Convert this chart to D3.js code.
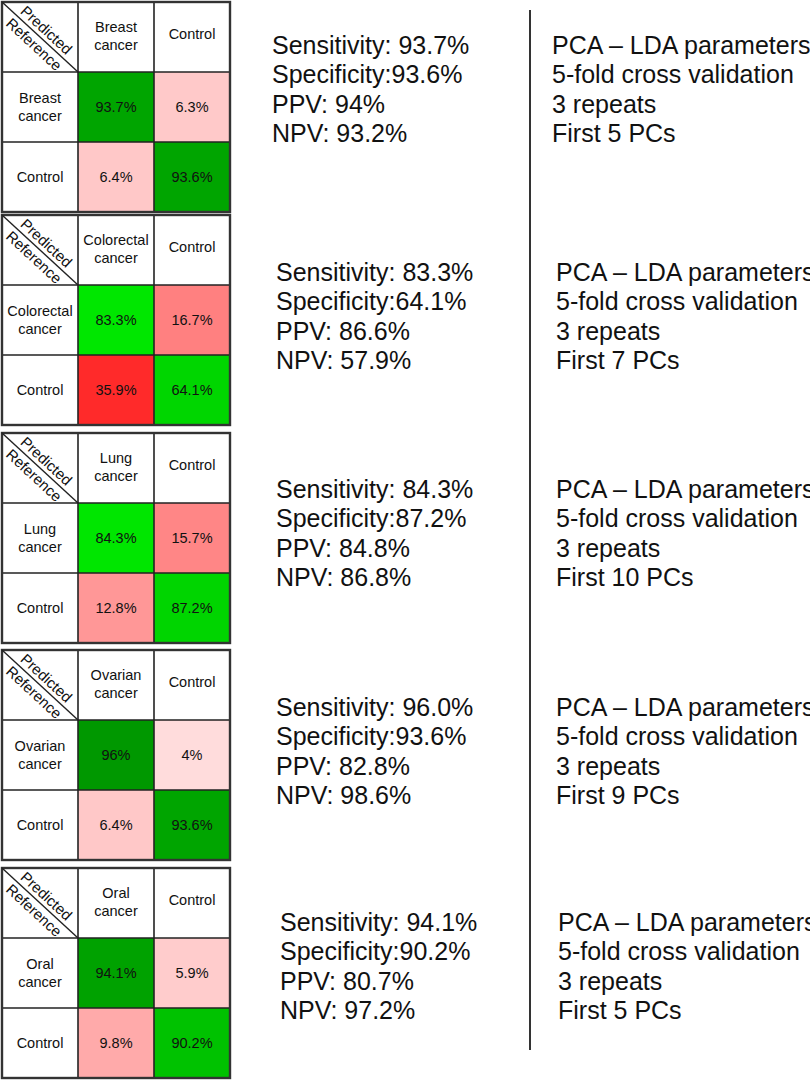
<!DOCTYPE html>
<html>
<head>
<meta charset="utf-8">
<script src="https://cdn.jsdelivr.net/npm/d3@7"></script>
<style>
  html, body { margin: 0; padding: 0; background: #fff; }
  svg { display: block; font-family: "Liberation Sans", Arial, Helvetica, sans-serif; }
</style>
</head>
<body>
<svg id="chart" width="810" height="1080"></svg>
<script>
// ---------------- data ----------------
const cancers = ["Breast", "Colorectal", "Lung", "Ovarian", "Oral"];
const truePositive = [93.7, 83.3, 84.3, 96, 94.1];   // cancer -> cancer
const falseNegative = [6.3, 16.7, 15.7, 4, 5.9];     // cancer -> control
const falsePositive = [6.4, 35.9, 12.8, 6.4, 9.8];   // control -> cancer
const trueNegative = [93.6, 64.1, 87.2, 93.6, 90.2]; // control -> control
const sensitivityLabels = ["93.7%", "83.3%", "84.3%", "96.0%", "94.1%"];
const specificityLabels = ["93.6%", "64.1%", "87.2%", "93.6%", "90.2%"];
const ppvLabels = ["94%", "86.6%", "84.8%", "82.8%", "80.7%"];
const npvLabels = ["93.2%", "57.9%", "86.8%", "98.6%", "97.2%"];
const firstPCs = [5, 7, 10, 9, 5];

// ---------------- layout ----------------
const panelTop = [2, 215, 433, 650, 868];
const panelH = 210;
const statsX = [272, 276, 276, 276, 280];
const paramsX = [552, 556, 556, 556, 558];
const textFirstY = [45, 272, 489, 707, 922];
const lineGap = 29.4;

const svg = d3.select("#chart");

const x = d3.scaleBand().domain(["hdr", "pos", "neg"]).range([2, 230]);

const green = d3.scaleLinear().domain([64, 84, 90, 94, 96])
  .range(["#00d600", "#00e800", "#00c400", "#00a200", "#009800"]).clamp(true);
const red = d3.scaleLinear().domain([4, 6.4, 10, 16.7, 36])
  .range(["#ffdcdc", "#ffc8c8", "#ffa8a8", "#ff8080", "#ff2a2a"]).clamp(true);

const fmt = v => (Number.isInteger(v) ? v : v.toFixed(1)) + "%";

function twoLine(g, cx, cy, lines, size) {
  const t = g.append("text").attr("text-anchor", "middle")
    .attr("font-size", size).attr("fill", "#111");
  const gap = 17.5;
  lines.forEach((l, i) => {
    t.append("tspan").attr("x", cx)
      .attr("y", cy + (i - (lines.length - 1) / 2) * gap)
      .attr("dy", "0.35em").text(l);
  });
}

cancers.forEach((name, i) => {
  const top = panelTop[i];
  const y = d3.scaleBand().domain(["hdr", "pos", "neg"]).range([top, top + panelH]);
  const g = svg.append("g");

  const cells = [
    { r: "pos", c: "pos", v: truePositive[i], good: true },
    { r: "pos", c: "neg", v: falseNegative[i], good: false },
    { r: "neg", c: "pos", v: falsePositive[i], good: false },
    { r: "neg", c: "neg", v: trueNegative[i], good: true }
  ];

  g.selectAll("rect.cell").data(cells).join("rect")
    .attr("class", "cell")
    .attr("x", d => x(d.c)).attr("y", d => y(d.r))
    .attr("width", x.bandwidth()).attr("height", y.bandwidth())
    .attr("fill", d => d.good ? green(d.v) : red(d.v));

  g.selectAll("text.val").data(cells).join("text")
    .attr("class", "val")
    .attr("x", d => x(d.c) + x.bandwidth() / 2)
    .attr("y", d => y(d.r) + y.bandwidth() / 2)
    .attr("dy", "0.35em").attr("text-anchor", "middle")
    .attr("font-size", 14.5).attr("fill", "#111")
    .text(d => fmt(d.v));

  // headers
  twoLine(g, x("pos") + x.bandwidth() / 2, y("hdr") + y.bandwidth() / 2 - 1, [name, "cancer"], 14.5);
  twoLine(g, x("neg") + x.bandwidth() / 2, y("hdr") + y.bandwidth() / 2 - 3, ["Control"], 14.5);
  twoLine(g, x("hdr") + x.bandwidth() / 2, y("pos") + y.bandwidth() / 2, [name, "cancer"], 14.5);
  twoLine(g, x("hdr") + x.bandwidth() / 2, y("neg") + y.bandwidth() / 2, ["Control"], 14.5);

  // grid lines
  const x0 = x.range()[0], x1 = x.range()[1];
  const y0 = y.range()[0], y1 = y.range()[1];
  ["pos", "neg"].forEach(k => {
    g.append("line").attr("x1", x(k)).attr("x2", x(k)).attr("y1", y0).attr("y2", y1)
      .attr("stroke", "#222").attr("stroke-width", 1.6);
    g.append("line").attr("x1", x0).attr("x2", x1).attr("y1", y(k)).attr("y2", y(k))
      .attr("stroke", "#222").attr("stroke-width", 1.6);
  });
  g.append("rect").attr("x", x0).attr("y", y0).attr("width", x1 - x0).attr("height", y1 - y0)
    .attr("fill", "none").attr("stroke", "#333").attr("stroke-width", 2.4);

  // diagonal header
  const hx0 = x("hdr"), hy0 = y("hdr"), hx1 = x("pos"), hy1 = y("pos");
  g.append("line").attr("x1", hx0).attr("y1", hy0).attr("x2", hx1).attr("y2", hy1)
    .attr("stroke", "#222").attr("stroke-width", 1.4);
  const ang = Math.atan2(hy1 - hy0, hx1 - hx0);
  const deg = ang * 180 / Math.PI;
  const mx = (hx0 + hx1) / 2, my = (hy0 + hy1) / 2;
  const nx = Math.sin(ang), ny = -Math.cos(ang);
  [["Predicted", 9.5, 0], ["Reference", -9.5, 0.5]].forEach(([t, o, a]) => {
    const px = mx + nx * o + Math.cos(ang) * a, py = my + ny * o + Math.sin(ang) * a;
    g.append("text").attr("transform", `translate(${px},${py}) rotate(${deg})`)
      .attr("text-anchor", "middle").attr("dy", "0.35em")
      .attr("font-size", 15).attr("fill", "#111").text(t);
  });

  // stats text
  const stats = [
    "Sensitivity: " + sensitivityLabels[i],
    "Specificity:" + specificityLabels[i],
    "PPV: " + ppvLabels[i],
    "NPV: " + npvLabels[i]
  ];
  const params = [
    "PCA \u2013 LDA parameters",
    "5-fold cross validation",
    "3 repeats",
    "First " + firstPCs[i] + " PCs"
  ];
  g.selectAll("text.stat").data(stats).join("text").attr("class", "stat")
    .attr("x", statsX[i]).attr("y", (d, k) => textFirstY[i] + k * lineGap)
    .attr("dy", "0.35em").attr("font-size", 25).attr("fill", "#111").text(d => d);
  g.selectAll("text.param").data(params).join("text").attr("class", "param")
    .attr("x", paramsX[i]).attr("y", (d, k) => textFirstY[i] + k * lineGap)
    .attr("dy", "0.35em").attr("font-size", 25).attr("fill", "#111").text(d => d);
});

// vertical divider
svg.append("line").attr("x1", 530).attr("x2", 530).attr("y1", 10).attr("y2", 1050)
  .attr("stroke", "#333").attr("stroke-width", 2);
</script>
</body>
</html>
